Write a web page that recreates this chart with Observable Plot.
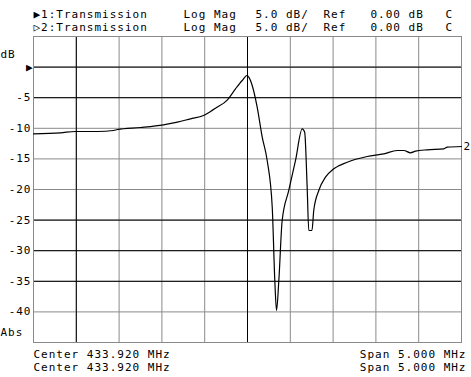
<!DOCTYPE html>
<html>
<head>
<meta charset="utf-8">
<script src="https://cdn.jsdelivr.net/npm/d3@7"></script>
<script src="https://cdn.jsdelivr.net/npm/@observablehq/plot@0.6"></script>
<style>
  html, body { margin: 0; padding: 0; background: #fff; }
  #chart { width: 471px; height: 377px; }
</style>
</head>
<body>
<div id="chart"></div>
<script>
// Transmission trace (frequency in MHz, magnitude in dB)
const freqMHz = [431.420, 431.735, 431.911, 432.168, 432.355, 432.401, 432.670, 432.939, 433.102, 433.254,
  433.406, 433.488, 433.546, 433.686, 433.780, 433.858, 433.914, 433.935, 433.975, 434.033,
  434.092, 434.150, 434.209, 434.239, 434.259, 434.286, 434.325, 434.402, 434.481, 434.559,
  434.588, 434.617, 434.636, 434.673, 434.694, 434.753, 434.831, 434.928, 435.085, 435.318,
  435.512, 435.669, 435.746, 435.824, 435.883, 436.019, 436.213, 436.253, 436.420];
const magDB = [-10.90, -10.74, -10.52, -10.52, -10.36, -10.20, -9.87, -9.43, -9.00, -8.45,
  -7.91, -7.25, -6.72, -5.34, -3.55, -2.19, -1.37, -1.65, -3.01, -6.55,
  -11.45, -15.26, -22.89, -34.87, -39.77, -34.87, -25.07, -20.16, -15.26, -10.11,
  -10.64, -19.62, -26.70, -26.70, -23.43, -20.16, -17.99, -16.62, -15.54, -14.61,
  -14.17, -13.63, -13.63, -14.00, -13.74, -13.51, -13.35, -13.09, -12.97];

const yTickValues = [-5, -10, -15, -20, -25, -30, -35, -40];
const gridFreq = [431.92, 432.42, 432.92, 433.42, 433.92, 434.42, 434.92, 435.42, 435.92];
const darkFreq = [431.92, 433.92];
const gridDB = [0, -5, -10, -15, -20, -25, -30, -35, -40];
const darkDB = [0, -5, -25, -30, -35];

const header1 = ["▶1:Transmission", "Log Mag", "5.0 dB/", "Ref", "0.00 dB", "C"];
const header2 = ["▷2:Transmission", "Log Mag", "5.0 dB/", "Ref", "0.00 dB", "C"];
const headerCols = [0, 150, 222, 290, 337, 412];
const footerLeft = ["Center 433.920 MHz", "Center 433.920 MHz"];
const footerRight = ["Span 5.000 MHz", "Span 5.000 MHz"];

const data = freqMHz.map((f, i) => ({f, db: magDB[i]}));
const xMin = 431.42, xMax = 436.42;

const txt = (label, anchor, dx, dy, textAnchor = "start") =>
  Plot.text([label], {frameAnchor: anchor, dx, dy, text: d => d, textAnchor, lineAnchor: "bottom", fill: "#000"});

const marks = [
  Plot.ruleX(gridFreq, {stroke: "#8a8a8a"}),
  Plot.ruleY(gridDB, {stroke: "#8a8a8a"}),
  Plot.ruleX(darkFreq, {stroke: "#000"}),
  Plot.ruleY(darkDB, {stroke: "#000"}),
  Plot.frame({stroke: "#8a8a8a"}),
  Plot.line(data, {x: "f", y: "db", stroke: "#000", strokeWidth: 1.2, curve: "monotone-x"}),
  Plot.axisY(yTickValues, {tickSize: 0, tickPadding: 2, tickFormat: d => `${d}`, fill: "#000", label: null}),
  Plot.text([0], {x: xMin, y: d => d, text: () => "▶", textAnchor: "end", dx: 0, fontSize: 11, fill: "#000"}),
  Plot.text([magDB[magDB.length - 1]], {x: xMax, y: d => d, text: () => "2", textAnchor: "start", dx: 2, fill: "#000"}),
  txt("dB", "top-left", -33, 21),
  txt("Abs", "bottom-left", -33, -7)
];
header1.forEach((s, i) => marks.push(txt(s, "top-left", headerCols[i], -19)));
header2.forEach((s, i) => marks.push(txt(s, "top-left", headerCols[i], -6)));
marks.push(txt(footerLeft[0], "bottom-left", 0, 15));
marks.push(txt(footerLeft[1], "bottom-left", 0, 28));
marks.push(txt(footerRight[0], "bottom-right", 5, 15, "end"));
marks.push(txt(footerRight[1], "bottom-right", 5, 28, "end"));

const chart = Plot.plot({
  width: 471,
  height: 377,
  marginLeft: 33,
  marginRight: 10,
  marginTop: 36,
  marginBottom: 35,
  x: {domain: [xMin, xMax], axis: null},
  y: {domain: [-45, 5], axis: null},
  style: {fontFamily: "'DejaVu Sans Mono', monospace", fontSize: "11px", letterSpacing: "1px", background: "#fff", color: "#000", overflow: "visible"},
  marks
});
document.getElementById("chart").appendChild(chart);
</script>
</body>
</html>
